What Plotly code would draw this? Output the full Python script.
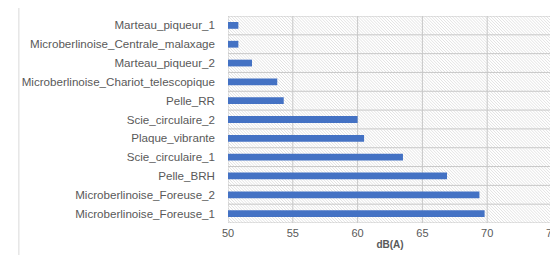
import plotly.graph_objects as go
import base64

categories = [
    "Microberlinoise_Foreuse_1",
    "Microberlinoise_Foreuse_2",
    "Pelle_BRH",
    "Scie_circulaire_1",
    "Plaque_vibrante",
    "Scie_circulaire_2",
    "Pelle_RR",
    "Microberlinoise_Chariot_telescopique",
    "Marteau_piqueur_2",
    "Microberlinoise_Centrale_malaxage",
    "Marteau_piqueur_1",
]
values = [69.8, 69.4, 66.9, 63.5, 60.5, 60.0, 54.3, 53.8, 51.85, 50.8, 50.8]
x_ticks = [50, 55, 60, 65, 70, 75]

svg = (
    '<svg xmlns="http://www.w3.org/2000/svg" width="330" height="207">'
    '<defs><pattern id="p" width="3" height="3" patternUnits="userSpaceOnUse">'
    '<path d="M-1,-1 L4,4 M-1,2 L1,4 M2,-1 L4,1" stroke="#dadada" stroke-width="0.8"/>'
    '</pattern></defs><rect width="330" height="207" fill="url(#p)"/></svg>'
)
src = "data:image/svg+xml;base64," + base64.b64encode(svg.encode()).decode()

grid_color = "#c8c8c8"
shapes = [
    dict(
        type="line", xref="paper", yref="paper",
        x0=-213 / 330, x1=-213 / 330, y0=-0.2, y1=1.05,
        line=dict(color="#d9d9d9", width=1),
    )
]
for t in x_ticks:
    shapes.append(dict(type="line", xref="x", yref="paper", x0=t, x1=t, y0=0, y1=1,
                       layer="between", line=dict(color=grid_color, width=1)))
for i in range(len(categories) + 1):
    shapes.append(dict(type="line", xref="paper", yref="y", x0=0, x1=1,
                       y0=i - 0.5, y1=i - 0.5,
                       layer="between", line=dict(color=grid_color, width=1)))

fig = go.Figure(
    go.Bar(
        y=categories,
        x=[v - 50 for v in values],
        base=50,
        orientation="h",
        marker=dict(color="#4472c4", line=dict(width=0)),
        width=0.36,
    )
)

font = "Liberation Sans"
fig.update_layout(
    width=558,
    height=255,
    margin=dict(l=220, r=8, t=8, b=40),
    paper_bgcolor="white",
    plot_bgcolor="white",
    showlegend=False,
    font=dict(family=font, size=11, color="#595959"),
    images=[
        dict(
            source=src, xref="paper", yref="paper", x=0, y=1,
            sizex=1, sizey=1, sizing="stretch", xanchor="left",
            yanchor="top", layer="below",
        )
    ],
    shapes=shapes,
)
fig.update_xaxes(
    range=[50, 75],
    tickvals=x_ticks,
    ticktext=[str(t) for t in x_ticks],
    showgrid=False,
    zeroline=False,
    showline=False,
    ticks="",
    ticklabelstandoff=2,
    tickfont=dict(size=11, color="#595959"),
    title=dict(text="<b>dB(A)</b>", font=dict(size=10, color="#595959"), standoff=2),
)
fig.update_yaxes(
    type="category",
    categoryorder="array",
    categoryarray=categories,
    range=[-0.5, len(categories) - 0.5],
    showgrid=False,
    showline=False,
    ticks="",
    ticklabelstandoff=12,
    tickfont=dict(size=11.6, color="#595959"),
)

fig.write_html("out.html")
